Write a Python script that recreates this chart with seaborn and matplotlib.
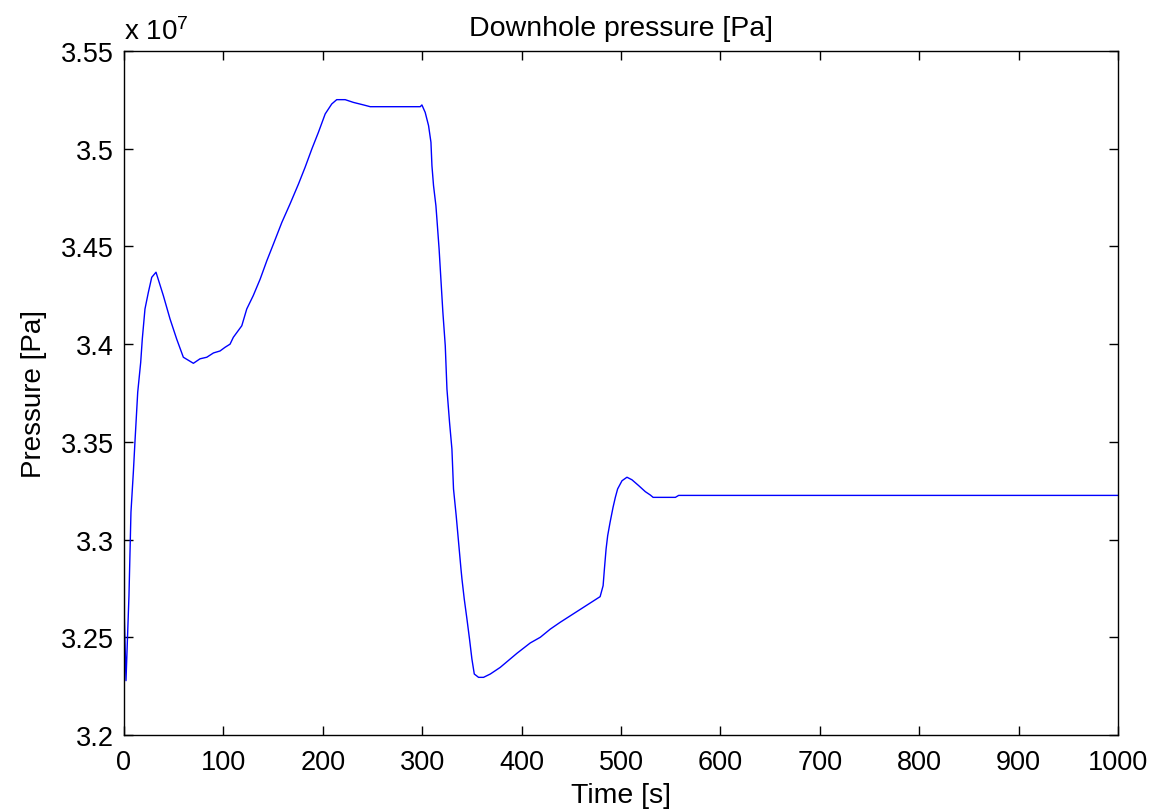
import matplotlib
matplotlib.use("Agg")
import matplotlib.pyplot as plt
import seaborn as sns
import pandas as pd

# ---- data ----
time_s = [0, 0.4, 2, 5, 7, 9.4, 11, 13.8, 16.8, 18.4, 21.1, 24.5, 27.9, 32.2,
          39.6, 46.3, 53, 59.7, 69.8, 76.5, 83.3, 90, 96.6, 101.7, 106.7, 110,
          118.5, 123.5, 130, 137, 143.7, 150.3, 158.8, 167, 175.5, 182.2, 189,
          195.6, 202.4, 209, 214, 222.5, 230.8, 241, 247.7, 298, 299.7, 303,
          306.4, 308.8, 309.8, 311.4, 313.8, 314.8, 317, 319, 320.8, 323.2,
          324.9, 327.5, 329.9, 331.5, 334.2, 336.6, 339, 340, 342.3, 345,
          347.6, 350, 352.4, 356.7, 361.7, 368.5, 378.5, 395.3, 408.7, 418.8,
          428.9, 438.9, 479, 482, 483.3, 485, 486.6, 489, 492, 494.3, 496.6,
          501, 506, 511, 517.8, 524.5, 529.5, 532.3, 554.7, 558, 1000]
pressure_e7 = [3.424, 3.26, 3.2278, 3.2713, 3.314, 3.3344, 3.3498, 3.3754,
               3.3907, 3.4026, 3.418, 3.4265, 3.4342, 3.4368, 3.4248, 3.4129,
               3.4026, 3.3933, 3.3902, 3.3925, 3.3933, 3.3955, 3.3965, 3.3984,
               3.4000, 3.4035, 3.4094, 3.418, 3.4248, 3.4333, 3.4427, 3.4512,
               3.4623, 3.4717, 3.4819, 3.4905, 3.4999, 3.5084, 3.5178, 3.5229,
               3.5251, 3.5251, 3.5237, 3.5224, 3.5215, 3.5215, 3.5224, 3.5186,
               3.5118, 3.5033, 3.4913, 3.4811, 3.4708, 3.464, 3.4487, 3.4316,
               3.4163, 3.3992, 3.377, 3.36, 3.3463, 3.3259, 3.3122, 3.2986,
               3.2850, 3.2798, 3.2696, 3.2594, 3.2491, 3.2389, 3.2312, 3.2295,
               3.2295, 3.2312, 3.2346, 3.2418, 3.2471, 3.25, 3.2542, 3.2577,
               3.2708, 3.2764, 3.2849, 3.2952, 3.302, 3.3088, 3.3165, 3.3216,
               3.3259, 3.3301, 3.3319, 3.3306, 3.3276, 3.3245, 3.3228, 3.3216,
               3.3216, 3.3226, 3.3226]
scale = 1e7

x_ticks = [0, 100, 200, 300, 400, 500, 600, 700, 800, 900, 1000]
y_ticks_e7 = [3.2, 3.25, 3.3, 3.35, 3.4, 3.45, 3.5, 3.55]
y_tick_labels = ["3.2", "3.25", "3.3", "3.35", "3.4", "3.45", "3.5", "3.55"]

title = "Downhole pressure [Pa]"
x_label = "Time [s]"
y_label = "Pressure [Pa]"
exponent_text = r"x 10$^{7}$"

df = pd.DataFrame({"t": time_s, "p": [v * scale for v in pressure_e7]})

sns.set_theme(style="white")
plt.rcParams["font.family"] = ["Liberation Sans", "DejaVu Sans"]
plt.rcParams["mathtext.fontset"] = "custom"
plt.rcParams["mathtext.rm"] = "Liberation Sans"
plt.rcParams["mathtext.it"] = "Liberation Sans"
plt.rcParams["mathtext.default"] = "rm"
plt.rcParams["text.color"] = "black"
plt.rcParams["axes.labelcolor"] = "black"

W, H = 1159, 812
fig = plt.figure(figsize=(W / 100, H / 100), dpi=100)
ax = fig.add_axes([124 / W, 1 - 736 / H, (1118 - 124) / W, (736 - 52) / H])

sns.lineplot(data=df, x="t", y="p", ax=ax, color="#0000ff", linewidth=1.0,
             estimator=None, sort=False)

ax.set_xlim(0, 1000)
ax.set_ylim(3.2 * scale, 3.55 * scale)
ax.set_xticks(x_ticks)
ax.set_xticklabels([str(v) for v in x_ticks])
ax.set_yticks([v * scale for v in y_ticks_e7])
ax.set_yticklabels(y_tick_labels)

ax.tick_params(axis="both", which="both", direction="in", length=6.5, width=1,
               colors="black", labelcolor="black", labelsize=19.5, top=True,
               right=True, bottom=True, left=True, pad=7.5)
ax.tick_params(axis="x", pad=10)
for s in ax.spines.values():
    s.set_visible(True)
    s.set_color("black")
    s.set_linewidth(1.0)

ax.set_title(title, fontsize=20.5, pad=11.5, color="black")
ax.set_xlabel(x_label, fontsize=20.5, labelpad=5, color="black")
ax.set_ylabel(y_label, fontsize=20, labelpad=10, color="black")
fig.text(124 / W, 1 - 40 / H, exponent_text, fontsize=20, ha="left",
         va="baseline", color="black")

fig.savefig("out.png", dpi=100)
